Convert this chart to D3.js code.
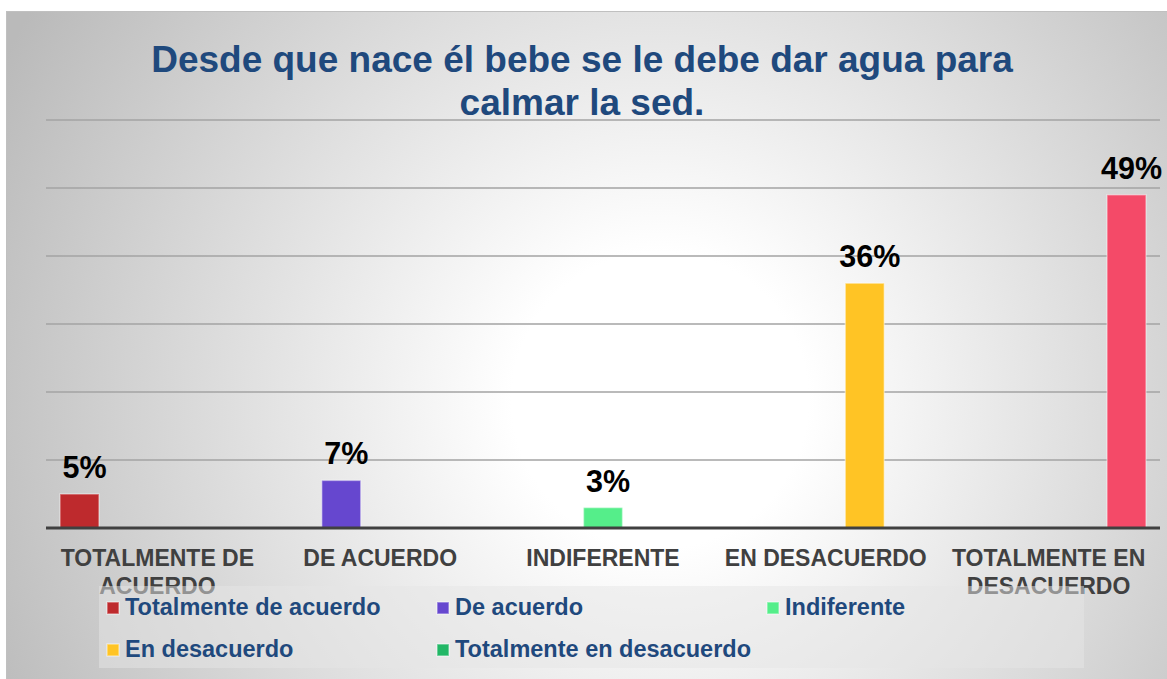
<!DOCTYPE html>
<html>
<head>
<meta charset="utf-8">
<script src="https://cdn.jsdelivr.net/npm/d3@7"></script>
<style>
  body { margin: 0; background: #fff; }
  svg { display: block; font-family: "Liberation Sans", Arial, sans-serif; }
</style>
</head>
<body>
<svg id="chart"></svg>
<script>
const width = 1167;
const height = 679;

// Données
const categories = ["TOTALMENTE DE ACUERDO", "DE ACUERDO", "INDIFERENTE", "EN DESACUERDO", "TOTALMENTE EN DESACUERDO"];
const seriesNames = ["Totalmente de acuerdo", "De acuerdo", "Indiferente", "En desacuerdo", "Totalmente en desacuerdo"];
const values = [0.05, 0.07, 0.03, 0.36, 0.49];
const barColors = ["#be2a2d", "#6647cf", "#55ee8a", "#ffc425", "#f44a68"];
const legendColors = ["#be2a2d", "#6647cf", "#55ee8a", "#ffc425", "#22b766"];
const yTicks = [0, 0.1, 0.2, 0.3, 0.4, 0.5, 0.6];

const svg = d3.select("#chart")
  .attr("width", width)
  .attr("height", height);

// fond dégradé
const defs = svg.append("defs");
const grad = defs.append("radialGradient")
  .attr("id", "bg")
  .attr("gradientUnits", "userSpaceOnUse")
  .attr("cx", 660).attr("cy", 400).attr("r", 740);
grad.append("stop").attr("offset", 0.2).attr("stop-color", "#ffffff");
grad.append("stop").attr("offset", 1).attr("stop-color", "#bababa");

svg.append("rect")
  .attr("x", 6.5).attr("y", 11.5)
  .attr("width", width).attr("height", height)
  .attr("fill", "url(#bg)")
  .attr("stroke", "#c0c0c0");

// Titre
const title = svg.append("text")
  .attr("text-anchor", "middle")
  .attr("font-size", 37)
  .attr("font-weight", "bold")
  .attr("fill", "#1f497d");
title.append("tspan").attr("x", 582).attr("y", 72).text("Desde que nace él bebe se le debe dar agua para");
title.append("tspan").attr("x", 582).attr("y", 115).text("calmar la sed.");

// Échelles
const x = d3.scaleBand()
  .domain(categories)
  .range([46, 1160]);

const xInner = d3.scaleBand()
  .domain(seriesNames)
  .range([0, x.bandwidth()])
  .paddingOuter(0.36);

const y = d3.scaleLinear()
  .domain([0, 0.6])
  .range([528, 120]);

// Grille
svg.append("g")
  .selectAll("line")
  .data(yTicks.filter(d => d > 0))
  .join("line")
  .attr("x1", 46).attr("x2", 1160)
  .attr("y1", d => y(d)).attr("y2", d => y(d))
  .attr("stroke", "#a3a3a3")
  .attr("stroke-width", 1.5);

// Barres : chaque série n'a qu'une valeur, dans sa propre catégorie
svg.append("g")
  .selectAll("rect")
  .data(values)
  .join("rect")
  .attr("x", (d, i) => x(categories[i]) + xInner(seriesNames[i]))
  .attr("y", d => y(d))
  .attr("width", xInner.bandwidth())
  .attr("height", d => y(0) - y(d))
  .attr("fill", (d, i) => barColors[i])
  .attr("stroke", "rgba(255,255,255,0.4)")
  .attr("stroke-width", 1.5);

// Étiquettes de données
svg.append("g")
  .selectAll("text")
  .data(values)
  .join("text")
  .attr("x", (d, i) => x(categories[i]) + xInner(seriesNames[i]) + xInner.bandwidth() / 2 + 5)
  .attr("y", d => y(d) - 16)
  .attr("text-anchor", "middle")
  .attr("font-size", 30.5)
  .attr("font-weight", "bold")
  .attr("fill", "#000")
  .text(d => d3.format(".0%")(d));

// Axe X
svg.append("line")
  .attr("x1", 46).attr("x2", 1160)
  .attr("y1", y(0)).attr("y2", y(0))
  .attr("stroke", "#404040")
  .attr("stroke-width", 3);

const xLabels = svg.append("g")
  .selectAll("text")
  .data(categories)
  .join("text")
  .attr("text-anchor", "middle")
  .attr("font-size", 23)
  .attr("font-weight", "bold")
  .attr("fill", "#404040")
  .attr("y", 566)
  .text(d => d);

// retour à la ligne des libellés trop longs
xLabels.each(function(d) {
  const t = d3.select(this);
  const cx = x(d) + x.bandwidth() / 2;
  const words = d.split(" ");
  t.text(null);
  let line = [];
  let lineNo = 0;
  let tspan = t.append("tspan").attr("x", cx).attr("y", 566);
  words.forEach(w => {
    line.push(w);
    tspan.text(line.join(" "));
    if (tspan.node().getComputedTextLength() > x.bandwidth() && line.length > 1) {
      line.pop();
      tspan.text(line.join(" "));
      line = [w];
      lineNo++;
      tspan = t.append("tspan").attr("x", cx).attr("y", 566 + lineNo * 27.5).text(w);
    }
  });
});

// Légende
svg.append("rect")
  .attr("x", 99).attr("y", 586)
  .attr("width", 985).attr("height", 82)
  .attr("fill", "#e6e6e6")
  .attr("fill-opacity", 0.5);

const legend = svg.append("g")
  .selectAll("g")
  .data(seriesNames)
  .join("g")
  .attr("transform", (d, i) => `translate(${107 + (i % 3) * 330},${602 + Math.floor(i / 3) * 42})`);

legend.append("rect")
  .attr("width", 12).attr("height", 12)
  .attr("fill", (d, i) => legendColors[i])
  .attr("stroke", "rgba(255,255,255,0.45)")
  .attr("stroke-width", 1.5);

legend.append("text")
  .attr("x", 18).attr("y", 13)
  .attr("font-size", 23.5)
  .attr("font-weight", "bold")
  .attr("fill", "#1f497d")
  .text(d => d);
</script>
</body>
</html>
